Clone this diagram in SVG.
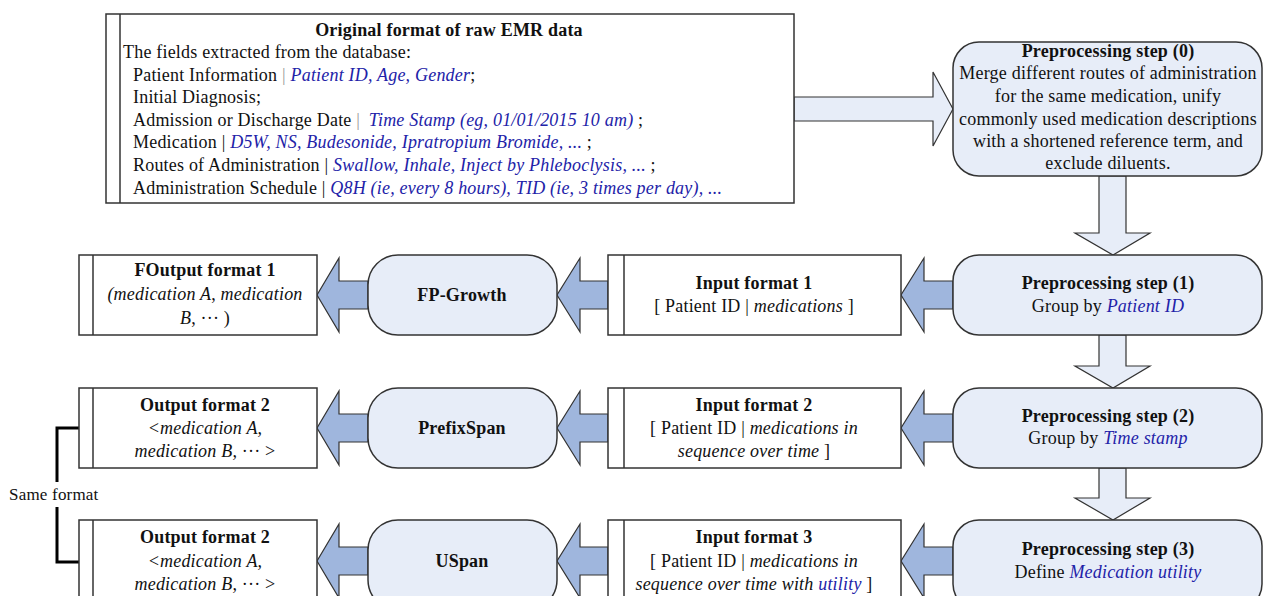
<svg xmlns="http://www.w3.org/2000/svg" width="1264" height="596" viewBox="0 0 1264 596">
<style>
text{font-family:"Liberation Serif","Times New Roman",serif;font-size:18px;letter-spacing:0.2px;fill:#111}
.b{font-weight:bold}
.i{font-style:italic}
.bl{fill:#2222a8;font-style:italic}
.g{fill:#999}
.c{text-anchor:middle}
.rect{fill:#fff;stroke:#333;stroke-width:1.5}
.rnd{fill:#e7edf8;stroke:#333;stroke-width:1.5}
.big{fill:#e7edf8;stroke:#333;stroke-width:1.2}
.blue{fill:#9fb6dd;stroke:#333;stroke-width:1.2}
.sep{stroke:#333;stroke-width:1.5}
</style>
<rect width="1264" height="596" fill="#fff"/>

<g id="connectors">
  <polygon class="big" points="794,97 933,97 933,72 953,109 933,146 933,121 794,121"/>
  <polygon class="big" points="1099,176 1126,176 1126,233 1150,233 1113,255 1075,233 1099,233"/>
  <polygon class="big" points="1099,335 1126,335 1126,366 1150,366 1113,388 1075,366 1099,366"/>
  <polygon class="big" points="1099,468 1126,468 1126,498 1150,498 1113,520 1075,498 1099,498"/>
  <polygon class="blue" points="953,281 924,281 924,258 901,295 924,332 924,309 953,309"/>
  <polygon class="blue" points="608,281 580,281 580,258 557,295 580,332 580,309 608,309"/>
  <polygon class="blue" points="368,281 339,281 339,258 317,295 339,332 339,309 368,309"/>
  <polygon class="blue" points="953,414 924,414 924,391 901,428 924,465 924,442 953,442"/>
  <polygon class="blue" points="608,414 580,414 580,391 557,428 580,465 580,442 608,442"/>
  <polygon class="blue" points="368,414 339,414 339,391 317,428 339,465 339,442 368,442"/>
  <polygon class="blue" points="953,547 924,547 924,524 901,561 924,598 924,575 953,575"/>
  <polygon class="blue" points="608,547 580,547 580,524 557,561 580,598 580,575 608,575"/>
  <polygon class="blue" points="368,547 339,547 339,524 317,561 339,598 339,575 368,575"/>
  <polyline points="79,428 57,428 57,482" fill="none" stroke="#000" stroke-width="3"/>
  <polyline points="57,507 57,562 79,562" fill="none" stroke="#000" stroke-width="3"/>
  <text x="9" y="500" style="font-size:17px">Same format</text>
</g>

<g id="raw">
  <rect class="rect" x="106" y="14" width="688" height="189"/>
  <line class="sep" x1="120" y1="14" x2="120" y2="203"/>
  <text class="b c" x="449" y="36">Original format of raw EMR data</text>
  <text x="123" y="58">The fields extracted from the database:</text>
  <text x="133" y="81">Patient Information <tspan class="g">|</tspan> <tspan class="bl">Patient ID, Age, Gender</tspan>;</text>
  <text x="133" y="103">Initial Diagnosis;</text>
  <text x="133" y="126">Admission or Discharge Date <tspan class="g">|</tspan> <tspan class="bl" dx="4">Time Stamp (eg, 01/01/2015 10 am)</tspan> ;</text>
  <text x="133" y="148">Medication | <tspan class="bl">D5W, NS, Budesonide, Ipratropium Bromide, ...</tspan> ;</text>
  <text x="133" y="171">Routes of Administration | <tspan class="bl">Swallow, Inhale, Inject by Phleboclysis, ...</tspan> ;</text>
  <text x="133" y="194">Administration Schedule | <tspan class="bl">Q8H (ie, every 8 hours), TID (ie, 3 times per day), ...</tspan></text>
</g>

<g id="step0">
  <rect class="rnd" x="953" y="42" width="309" height="134" rx="26"/>
  <text class="b c" x="1108" y="57">Preprocessing step (0)</text>
  <text class="c" x="1108" y="79">Merge different routes of administration</text>
  <text class="c" x="1108" y="102">for the same medication, unify</text>
  <text class="c" x="1108" y="125">commonly used medication descriptions</text>
  <text class="c" x="1108" y="147">with a shortened reference term, and</text>
  <text class="c" x="1108" y="169">exclude diluents.</text>
</g>

<g id="step1">
  <rect class="rnd" x="953" y="255" width="309" height="80" rx="26"/>
  <text class="b c" x="1108" y="289">Preprocessing step (1)</text>
  <text class="c" x="1108" y="312">Group by <tspan class="bl">Patient ID</tspan></text>
</g>
<g id="step2">
  <rect class="rnd" x="953" y="388" width="309" height="80" rx="26"/>
  <text class="b c" x="1108" y="422">Preprocessing step (2)</text>
  <text class="c" x="1108" y="444">Group by <tspan class="bl">Time stamp</tspan></text>
</g>
<g id="step3">
  <rect class="rnd" x="953" y="520" width="309" height="90" rx="26"/>
  <text class="b c" x="1108" y="555">Preprocessing step (3)</text>
  <text class="c" x="1108" y="578">Define <tspan class="bl">Medication utility</tspan></text>
</g>

<g id="input1">
  <rect class="rect" x="608" y="255" width="293" height="80"/>
  <line class="sep" x1="624" y1="255" x2="624" y2="335"/>
  <text class="b c" x="754" y="289">Input format 1</text>
  <text class="c" x="754" y="312">[ Patient ID | <tspan class="i">medications</tspan> ]</text>
</g>
<g id="input2">
  <rect class="rect" x="608" y="388" width="293" height="80"/>
  <line class="sep" x1="624" y1="388" x2="624" y2="468"/>
  <text class="b c" x="754" y="411">Input format 2</text>
  <text class="c" x="754" y="434">[ Patient ID | <tspan class="i">medications in</tspan></text>
  <text class="c" x="754" y="457"><tspan class="i">sequence over time</tspan> ]</text>
</g>
<g id="input3">
  <rect class="rect" x="608" y="520" width="293" height="90"/>
  <line class="sep" x1="624" y1="520" x2="624" y2="610"/>
  <text class="b c" x="754" y="543">Input format 3</text>
  <text class="c" x="754" y="567">[ Patient ID | <tspan class="i">medications in</tspan></text>
  <text class="c" x="754" y="590"><tspan class="i">sequence over time with </tspan><tspan class="bl">utility</tspan> ]</text>
</g>

<g id="fpgrowth">
  <rect class="rnd" x="368" y="255" width="189" height="80" rx="30"/>
  <text class="b c" x="462" y="301">FP-Growth</text>
</g>
<g id="prefixspan">
  <rect class="rnd" x="368" y="388" width="189" height="80" rx="30"/>
  <text class="b c" x="462" y="434">PrefixSpan</text>
</g>
<g id="uspan">
  <rect class="rnd" x="368" y="520" width="189" height="90" rx="30"/>
  <text class="b c" x="462" y="567">USpan</text>
</g>

<g id="output1">
  <rect class="rect" x="79" y="255" width="238" height="80"/>
  <line class="sep" x1="93" y1="255" x2="93" y2="335"/>
  <text class="b c" x="205" y="276">FOutput format 1</text>
  <text class="c i" x="205" y="300">(medication A<tspan font-style="normal">, </tspan>medication</text>
  <text class="c" x="205" y="324"><tspan class="i">B</tspan>, ··· )</text>
</g>
<g id="output2">
  <rect class="rect" x="79" y="388" width="238" height="80"/>
  <line class="sep" x1="93" y1="388" x2="93" y2="468"/>
  <text class="b c" x="205" y="411">Output format 2</text>
  <text class="c i" x="205" y="434">&lt;medication A,</text>
  <text class="c" x="205" y="457"><tspan class="i">medication B,</tspan> ··· &gt;</text>
</g>
<g id="output3">
  <rect class="rect" x="79" y="520" width="238" height="90"/>
  <line class="sep" x1="93" y1="520" x2="93" y2="610"/>
  <text class="b c" x="205" y="543">Output format 2</text>
  <text class="c i" x="205" y="567">&lt;medication A,</text>
  <text class="c" x="205" y="590"><tspan class="i">medication B,</tspan> ··· &gt;</text>
</g>
</svg>
